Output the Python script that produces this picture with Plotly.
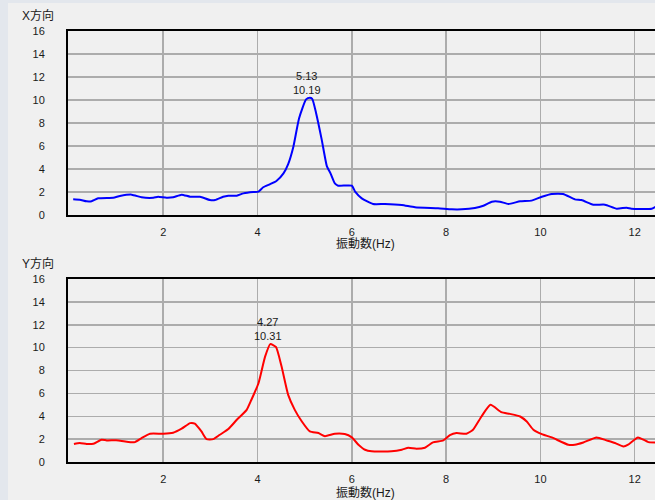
import plotly.graph_objects as go

# ---- data ----
x_freq = [0.09, 0.23, 0.375, 0.48, 0.62, 0.94, 1.08, 1.33, 1.54, 1.79, 1.89, 2.07, 2.21, 2.39, 2.57,
          2.78, 2.99, 3.1, 3.27, 3.38, 3.56, 3.7, 3.91, 4.02, 4.12, 4.26, 4.4, 4.55, 4.65, 4.76,
          4.88, 5.03, 5.11, 5.16, 5.24, 5.36, 5.47, 5.55, 5.64, 5.71, 6.0, 6.07, 6.21, 6.45, 6.7,
          7.06, 7.34, 7.83, 8.12, 8.33, 8.61, 8.79, 8.97, 9.14, 9.32, 9.57, 9.81, 10.03, 10.24,
          10.48, 10.73, 10.87, 11.12, 11.37, 11.62, 11.83, 11.93, 12.36, 12.45]
x_amp = [1.37, 1.33, 1.19, 1.2, 1.45, 1.5, 1.65, 1.77, 1.54, 1.5, 1.59, 1.5, 1.54, 1.77, 1.59,
         1.59, 1.3, 1.3, 1.59, 1.68, 1.68, 1.88, 2.0, 2.03, 2.41, 2.67, 2.96, 3.62, 4.43, 5.94,
         8.4, 10.05, 10.19, 10.1, 8.9, 6.58, 4.25, 3.6, 2.75, 2.55, 2.55, 2.03, 1.45, 0.96, 0.96,
         0.87, 0.67, 0.58, 0.49, 0.49, 0.61, 0.81, 1.16, 1.16, 0.96, 1.19, 1.25, 1.59, 1.83,
         1.83, 1.36, 1.3, 0.9, 0.9, 0.55, 0.64, 0.55, 0.55, 0.72]

y_freq = [0.106, 0.23, 0.375, 0.52, 0.69, 0.8, 1.05, 1.26, 1.4, 1.54, 1.72, 2.0, 2.21, 2.39, 2.57,
          2.67, 2.81, 2.92, 3.06, 3.2, 3.38, 3.56, 3.77, 3.87, 4.02, 4.16, 4.27, 4.39, 4.51, 4.65,
          4.79, 4.94, 5.11, 5.29, 5.43, 5.64, 5.85, 6.0, 6.14, 6.28, 6.42, 6.84, 7.06, 7.2, 7.37,
          7.55, 7.72, 7.94, 8.08, 8.22, 8.43, 8.57, 8.75, 8.94, 9.17, 9.35, 9.57, 9.71, 9.85,
          10.03, 10.24, 10.59, 10.73, 10.91, 11.19, 11.4, 11.58, 11.76, 11.86, 12.07, 12.29, 12.45]
y_amp = [1.57, 1.66, 1.57, 1.6, 1.95, 1.89, 1.89, 1.74, 1.74, 2.09, 2.47, 2.47, 2.56, 2.91, 3.4,
         3.35, 2.67, 2.0, 2.0, 2.38, 2.88, 3.69, 4.56, 5.44, 6.89, 9.21, 10.31, 10.06, 8.35, 5.87,
         4.56, 3.54, 2.67, 2.53, 2.26, 2.47, 2.44, 2.15, 1.51, 1.07, 0.93, 0.93, 1.07, 1.25, 1.16,
         1.25, 1.71, 1.89, 2.35, 2.53, 2.47, 2.82, 3.98, 5.0, 4.36, 4.21, 3.98, 3.54, 2.82,
         2.44, 2.15, 1.51, 1.51, 1.71, 2.15, 1.89, 1.66, 1.36, 1.51, 2.15, 1.74, 1.71]

panel_titles = ["X方向", "Y方向"]
peak_freq = [5.13, 4.27]
peak_amp = [10.19, 10.31]
x_ticks = [2, 4, 6, 8, 10, 12]
y_ticks = [0, 2, 4, 6, 8, 10, 12, 14, 16]
x_title = "振動数(Hz)"

# ---- layout geometry ----
W, H = 655, 500
ML, MR, MT, MB = 68, 0, 31, 38
PW, PH = W - ML - MR, H - MT - MB


def px_x(p):
    return (p - ML) / PW


def px_y(p):
    return (H - MB - p) / PH


FONT = "Liberation Sans, Noto Sans CJK JP, sans-serif"
fig = go.Figure()
fig.add_trace(go.Scatter(x=x_freq, y=x_amp, mode="lines", xaxis="x", yaxis="y",
                         line=dict(color="#0000ff", width=2, shape="spline", smoothing=0.5),
                         showlegend=False, hoverinfo="skip"))
fig.add_trace(go.Scatter(x=y_freq, y=y_amp, mode="lines", xaxis="x2", yaxis="y2",
                         line=dict(color="#ff0000", width=2, shape="spline", smoothing=0.5),
                         showlegend=False, hoverinfo="skip"))

axis_common = dict(showline=True, linecolor="#000000", linewidth=2, showgrid=True,
                   gridcolor="#acacac", gridwidth=1.5, zeroline=False, ticks="",
                   tickfont=dict(family=FONT, size=11, color="#1a1a1a"))
xrange = [-0.02, 12.43]
fig.update_layout(
    width=W, height=H,
    margin=dict(l=ML, r=MR, t=MT, b=MB),
    paper_bgcolor="#f0f0f0", plot_bgcolor="#f0f0f0",
    xaxis=dict(domain=[0, 1], range=xrange, tickvals=x_ticks, anchor="y", mirror=True,
               ticklabelstandoff=6, **axis_common),
    yaxis=dict(domain=[px_y(215), 1], range=[0, 16], tickvals=y_ticks, anchor="x",
               ticklabelstandoff=19, **axis_common),
    xaxis2=dict(domain=[0, 1], range=xrange, tickvals=x_ticks, anchor="y2", mirror=True,
                ticklabelstandoff=6, **axis_common),
    yaxis2=dict(domain=[0, px_y(279)], range=[0, 16], tickvals=y_ticks, anchor="x2",
                ticklabelstandoff=19, **axis_common),
)

# bluish window edges
fig.add_shape(type="rect", xref="paper", yref="paper", x0=px_x(0), x1=px_x(8),
              y0=px_y(H), y1=px_y(0), fillcolor="#e3e7ed", line=dict(width=0), layer="below")
fig.add_shape(type="rect", xref="paper", yref="paper", x0=px_x(0), x1=px_x(W),
              y0=px_y(3), y1=px_y(0), fillcolor="#e3e7ed", line=dict(width=0), layer="below")

anns = []
for i, (t, ty) in enumerate(zip(panel_titles, [15, 263])):
    anns.append(dict(text=t, xref="paper", yref="paper", x=px_x(20), y=px_y(ty),
                     xanchor="left", yanchor="middle", showarrow=False,
                     font=dict(family=FONT, size=12, color="#1a1a1a")))
for ty in [243, 492]:
    anns.append(dict(text=x_title, xref="paper", yref="paper", x=px_x(366), y=px_y(ty),
                     xanchor="center", yanchor="middle", showarrow=False,
                     font=dict(family=FONT, size=12, color="#1a1a1a")))
for i, (xr, yr, xs) in enumerate([("x", "y", -4), ("x2", "y2", -2)]):
    anns.append(dict(text=f"{peak_freq[i]:.2f}<br>{peak_amp[i]:.2f}", xref=xr, yref=yr,
                     x=peak_freq[i], y=peak_amp[i], xanchor="center", yanchor="bottom",
                     xshift=xs, yshift=0, showarrow=False,
                     font=dict(family=FONT, size=11, color="#1a1a1a")))
fig.update_layout(annotations=anns)

fig.write_html("out.html", config={"displayModeBar": False, "staticPlot": True},
               post_script="document.body.style.margin='0';document.body.style.padding='0';document.body.style.overflow='hidden';")
